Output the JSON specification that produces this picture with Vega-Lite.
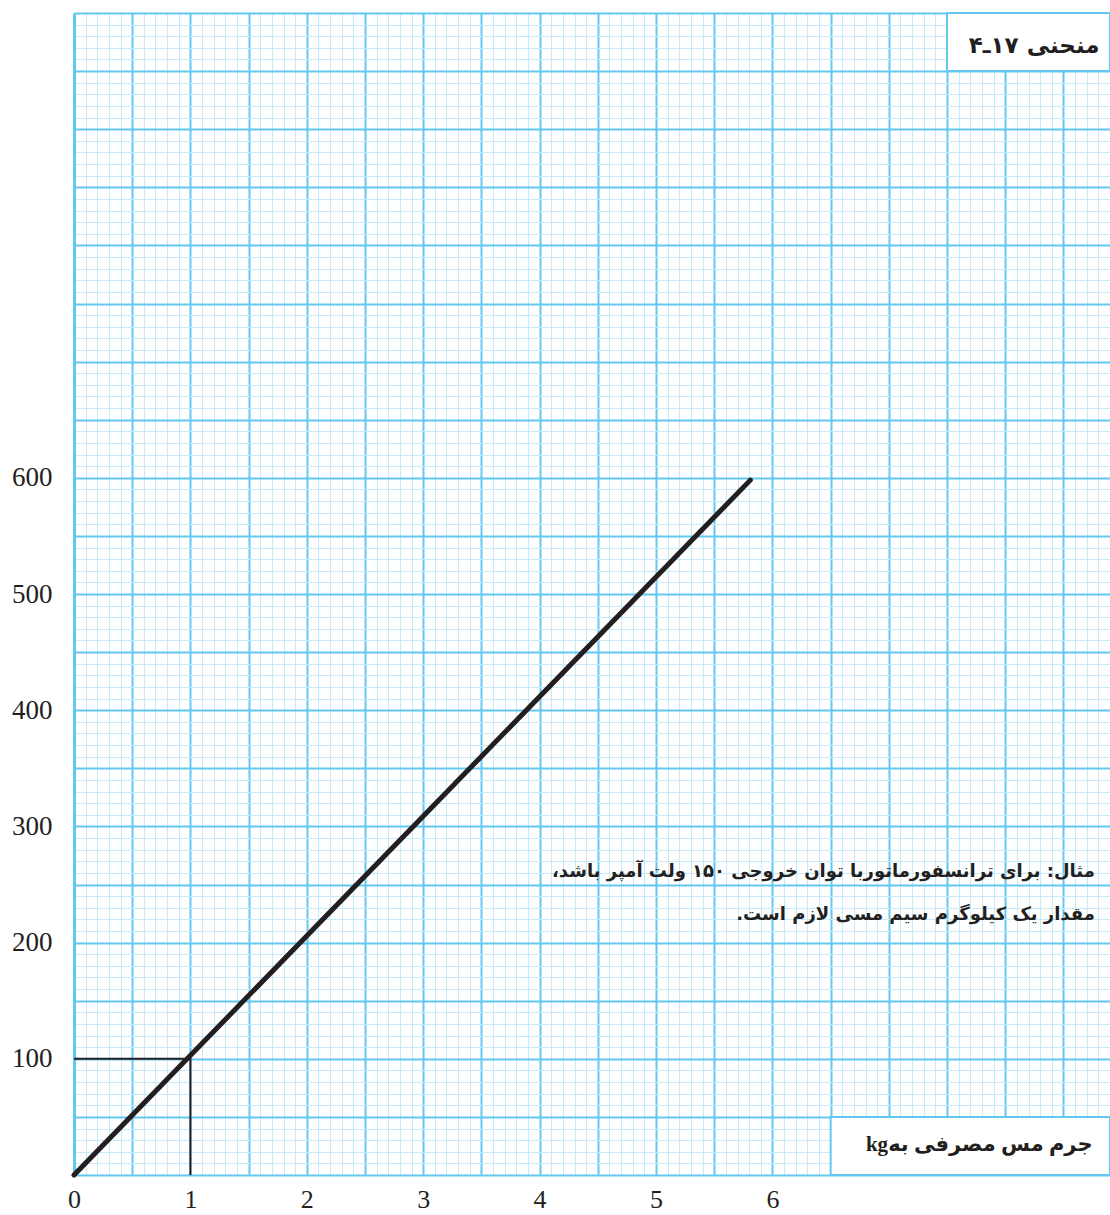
{
  "$schema": "https://vega.github.io/schema/vega-lite/v6.json",
  "width": 1036,
  "height": 1162,
  "autosize": {"type": "none"},
  "padding": {"left": 74, "top": 13, "right": 0, "bottom": 40},
  "background": "white",
  "config": {
    "view": {"stroke": null},
    "axis": {"labelFont": "Liberation Serif", "labelFontSize": 27, "labelColor": "#231f20", "ticks": false, "domain": false, "title": null, "labelFlush": false}
  },
  "datasets": {
    "curve": [{"kg": 0, "va": 0}, {"kg": 5.81, "va": 598}],
    "guide": [{"kg": 0, "va": 100, "s": 1}, {"kg": 1, "va": 100, "s": 2}, {"kg": 1, "va": 0, "s": 3}],
    "boxes": [{"kg": 7.5, "kg2": 8.9, "va": 950, "va2": 1000}, {"kg": 6.5, "kg2": 8.9, "va": 0, "va2": 50}],
    "title": [{"kg": 8.81, "va": 972, "t": "‫منحنی ۱۷ـ۴‬"}],
    "xlabel": [{"kg": 8.75, "va": 26, "t": "‫جرم مس مصرفی بهkg‬"}],
    "note": [
      {"kg": 8.77, "va": 261, "t": "‫مثال: برای ترانسفورماتوربا توان خروجی ۱۵۰ ولت آمپر باشد،‬"},
      {"kg": 8.77, "va": 224, "t": "‫مقدار یک کیلوگرم سیم مسی لازم است.‬"}
    ]
  },
  "layer": [
    {
      "data": {"name": "guide"},
      "mark": {"type": "line", "color": "#231f20", "strokeWidth": 2, "zindex": 3},
      "encoding": {
        "x": {"field": "kg", "type": "quantitative", "scale": {"domain": [0, 8.9], "nice": false, "zero": false},
          "axis": {"orient": "bottom", "grid": true, "gridColor": "#c6eafa", "gridWidth": 1, "labels": false, "zindex": 0,
            "values": [0,0.1,0.2,0.3,0.4,0.5,0.6,0.7,0.8,0.9,1,1.1,1.2,1.3,1.4,1.5,1.6,1.7,1.8,1.9,2,2.1,2.2,2.3,2.4,2.5,2.6,2.7,2.8,2.9,3,3.1,3.2,3.3,3.4,3.5,3.6,3.7,3.8,3.9,4,4.1,4.2,4.3,4.4,4.5,4.6,4.7,4.8,4.9,5,5.1,5.2,5.3,5.4,5.5,5.6,5.7,5.8,5.9,6,6.1,6.2,6.3,6.4,6.5,6.6,6.7,6.8,6.9,7,7.1,7.2,7.3,7.4,7.5,7.6,7.7,7.8,7.9,8,8.1,8.2,8.3,8.4,8.5,8.6,8.7,8.8,8.9]}},
        "y": {"field": "va", "type": "quantitative", "scale": {"domain": [0, 1000], "nice": false, "zero": false},
          "axis": {"orient": "left", "grid": true, "gridColor": "#c6eafa", "gridWidth": 1, "labels": false, "zindex": 0,
            "values": [0,10,20,30,40,50,60,70,80,90,100,110,120,130,140,150,160,170,180,190,200,210,220,230,240,250,260,270,280,290,300,310,320,330,340,350,360,370,380,390,400,410,420,430,440,450,460,470,480,490,500,510,520,530,540,550,560,570,580,590,600,610,620,630,640,650,660,670,680,690,700,710,720,730,740,750,760,770,780,790,800,810,820,830,840,850,860,870,880,890,900,910,920,930,940,950,960,970,980,990,1000]}},
        "order": {"field": "s", "type": "quantitative"}
      }
    },
    {
      "data": {"name": "curve"},
      "mark": {"type": "line", "color": "#231f20", "strokeWidth": 5, "strokeCap": "round", "zindex": 4},
      "encoding": {
        "x": {"field": "kg", "type": "quantitative", "scale": {"domain": [0, 8.9], "nice": false, "zero": false},
          "axis": {"orient": "bottom", "grid": true, "gridColor": "#62c8f1", "gridWidth": 2, "labelPadding": 11, "labelFontSize": 26, "zindex": 0,
            "labelExpr": "datum.value <= 6 && datum.value == floor(datum.value) ? '' + datum.value : ''",
            "values": [0,0.5,1,1.5,2,2.5,3,3.5,4,4.5,5,5.5,6,6.5,7,7.5,8,8.5]}},
        "y": {"field": "va", "type": "quantitative", "scale": {"domain": [0, 1000], "nice": false, "zero": false},
          "axis": {"orient": "left", "grid": true, "gridColor": "#62c8f1", "gridWidth": 2, "labelPadding": 22, "zindex": 0,
            "domain": true, "domainColor": "#62c8f1", "domainWidth": 3,
            "labelExpr": "datum.value >= 100 && datum.value <= 600 && datum.value % 100 == 0 ? datum.label : ''",
            "values": [0,50,100,150,200,250,300,350,400,450,500,550,600,650,700,750,800,850,900,950,1000]}}
      }
    },
    {
      "data": {"name": "boxes"},
      "mark": {"type": "rect", "fill": "white", "stroke": "#62c8f1", "strokeWidth": 2, "zindex": 2},
      "encoding": {
        "x": {"field": "kg", "type": "quantitative", "axis": null},
        "x2": {"field": "kg2"},
        "y": {"field": "va", "type": "quantitative", "axis": null},
        "y2": {"field": "va2"}
      }
    },
    {
      "data": {"name": "title"},
      "mark": {"type": "text", "font": "DejaVu Sans", "fontWeight": "bold", "fontSize": 23, "align": "right", "baseline": "middle", "color": "#231f20", "zindex": 5},
      "encoding": {
        "x": {"field": "kg", "type": "quantitative", "axis": null},
        "y": {"field": "va", "type": "quantitative", "axis": null},
        "text": {"field": "t"}
      }
    },
    {
      "data": {"name": "xlabel"},
      "mark": {"type": "text", "font": "Liberation Serif, DejaVu Sans", "fontWeight": "bold", "fontSize": 21, "align": "right", "baseline": "middle", "color": "#231f20", "zindex": 5},
      "encoding": {
        "x": {"field": "kg", "type": "quantitative", "axis": null},
        "y": {"field": "va", "type": "quantitative", "axis": null},
        "text": {"field": "t"}
      }
    },
    {
      "data": {"name": "note"},
      "mark": {"type": "text", "font": "DejaVu Sans", "fontWeight": "bold", "fontSize": 18, "align": "right", "baseline": "middle", "color": "#231f20", "zindex": 5},
      "encoding": {
        "x": {"field": "kg", "type": "quantitative", "axis": null},
        "y": {"field": "va", "type": "quantitative", "axis": null},
        "text": {"field": "t"}
      }
    }
  ],
  "resolve": {"axis": {"x": "independent", "y": "independent"}}
}
